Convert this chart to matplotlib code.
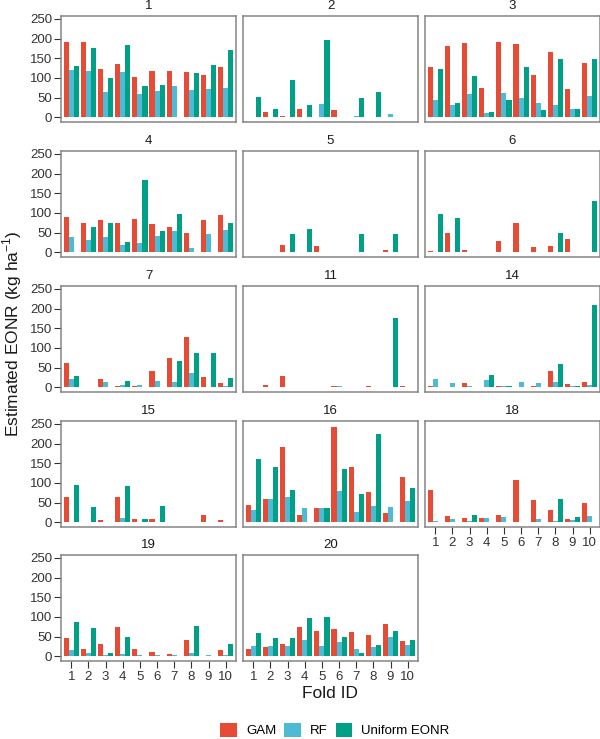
import matplotlib.pyplot as plt
import numpy as np

plt.rcParams['font.family'] = ['Liberation Sans', 'DejaVu Sans']
plt.rcParams['mathtext.fontset'] = 'custom'
plt.rcParams['mathtext.rm'] = 'Liberation Sans'

# Data: estimated EONR per site (panel) and fold, for each method
sites = [1, 2, 3, 4, 5, 6, 7, 11, 14, 15, 16, 18, 19, 20]
folds = [1, 2, 3, 4, 5, 6, 7, 8, 9, 10]

gam_vals = [
    [191, 191, 123, 136, 101, 117, 117, 114, 106, 127],
    [0, 14, 4, 22, 0, 18, 0, 0, 0, 0],
    [127, 182, 189, 74, 191, 186, 107, 165, 72, 138],
    [89, 75, 81, 75, 85, 71, 63, 49, 81, 94],
    [0, 0, 17, 1, 15, 0, 1, 0, 6, 0],
    [4, 49, 6, 0, 29, 75, 14, 16, 34, 0],
    [62, 0, 21, 3, 4, 42, 75, 127, 25, 10],
    [0, 5, 29, 0, 0, 3, 0, 2, 1, 2],
    [2, 1, 10, 0, 2, 0, 4, 40, 7, 13],
    [63, 0, 6, 65, 7, 8, 1, 0, 19, 6],
    [44, 60, 192, 18, 35, 243, 140, 76, 23, 115],
    [81, 15, 11, 11, 17, 107, 56, 30, 9, 49],
    [45, 19, 31, 74, 17, 11, 5, 40, 1, 15],
    [17, 23, 30, 75, 64, 69, 61, 55, 82, 39],
]
rf_vals = [
    [119, 117, 63, 115, 58, 67, 80, 68, 71, 75],
    [1, 0, 0, 1, 34, 0, 2, 0, 7, 1],
    [44, 31, 59, 10, 62, 50, 35, 31, 21, 53],
    [39, 30, 39, 17, 23, 41, 54, 11, 47, 57],
    [1, 0, 0, 0, 0, 0, 0, 0, 0, 0],
    [0, 0, 0, 0, 0, 0, 0, 0, 0, 0],
    [21, 1, 13, 6, 6, 16, 14, 35, 0, 3],
    [0, 1, 0, 0, 1, 2, 0, 0, 0, 0],
    [21, 10, 3, 18, 2, 13, 10, 12, 4, 6],
    [1, 0, 0, 10, 0, 0, 0, 0, 1, 0],
    [31, 60, 63, 35, 35, 79, 27, 42, 39, 54],
    [4, 8, 2, 10, 14, 0, 7, 2, 5, 15],
    [16, 8, 3, 6, 4, 2, 2, 8, 2, 2],
    [26, 26, 25, 40, 27, 37, 19, 23, 50, 28],
]
uniform_vals = [
    [130, 177, 100, 184, 79, 81, 0, 112, 132, 171],
    [51, 21, 94, 31, 197, 0, 48, 64, 0, 0],
    [123, 35, 104, 14, 44, 128, 17, 148, 21, 149],
    [0, 63, 75, 27, 183, 55, 97, 0, 0, 75],
    [0, 0, 45, 60, 0, 0, 45, 0, 45, 0],
    [97, 87, 0, 0, 0, 0, 0, 50, 0, 131],
    [28, 0, 0, 16, 0, 0, 67, 86, 86, 23],
    [0, 0, 0, 0, 0, 0, 0, 0, 177, 0],
    [0, 0, 0, 31, 2, 0, 0, 58, 4, 210],
    [95, 38, 0, 92, 8, 42, 0, 0, 0, 0],
    [161, 141, 83, 0, 35, 135, 71, 224, 0, 86],
    [0, 0, 17, 0, 0, 0, 0, 59, 14, 0],
    [87, 72, 9, 48, 0, 0, 0, 78, 0, 30],
    [60, 47, 47, 97, 100, 49, 7, 28, 64, 41],
]
methods = ['GAM', 'RF', 'Uniform EONR']
colors = ['#E64B35', '#4DBBD5', '#00A087']
y_ticks = [0, 50, 100, 150, 200, 250]

W, H = 600, 739
fig = plt.figure(figsize=(W / 100, H / 100), dpi=100)


def px_axes(left, top, w, h):
    return fig.add_axes([left / W, 1 - (top + h) / H, w / W, h / H])


col_left = [61, 243, 425]
row_top = [16, 151, 286, 421, 555]
panel_w, panel_h = 175, 106
bottom_sites = {18, 19, 20}

x = np.array(folds)
handles = None
for i, site in enumerate(sites):
    r, c = divmod(i, 3)
    ax = px_axes(col_left[c], row_top[r], panel_w, panel_h)
    bars = []
    for k, vals in enumerate([gam_vals[i], rf_vals[i], uniform_vals[i]]):
        bars.append(ax.bar(x + (k - 1) * 0.3, vals, 0.3, color=colors[k],
                           label=methods[k], linewidth=0))
    handles = bars
    ax.set_xlim(0.4, 10.6)
    ax.set_ylim(-12.25, 257.25)
    for sp in ax.spines.values():
        sp.set_color('#858585')
        sp.set_linewidth(1.1)
    ax.set_yticks(y_ticks)
    ax.tick_params(axis='y', length=5, width=0.8, color='#333333',
                   labelsize=9.5, labelcolor='#333333', pad=1.5,
                   left=(c == 0), labelleft=(c == 0))
    ax.set_xticks(folds)
    show_x = site in bottom_sites
    ax.tick_params(axis='x', length=5, width=0.8, color='#333333',
                   labelsize=9.5, labelcolor='#333333', pad=2,
                   bottom=show_x, labelbottom=show_x)
    ax.text(0.5, 1 + 10 / panel_h, str(site), transform=ax.transAxes,
            ha='center', va='center', fontsize=9.5, color='#1a1a1a')

fig.text(12 / W, 1 - 334 / H, r'Estimated EONR (kg ha$^{\mathregular{-1}}$)',
         rotation=90, ha='center', va='center', fontsize=12.5, color='#1a1a1a')
fig.text(330 / W, 1 - 693 / H, 'Fold ID', ha='center', va='center',
         fontsize=12.5, color='#1a1a1a')

fig.legend(handles, methods, loc='center', bbox_to_anchor=(335 / W, 1 - 730 / H),
           ncol=3, frameon=False, fontsize=9.5, handlelength=1.25,
           handleheight=1.25, handletextpad=0.7, columnspacing=0.6)

fig.savefig('out.png', dpi=100)
